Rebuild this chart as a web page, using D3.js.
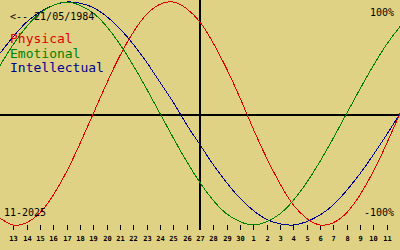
<!DOCTYPE html>
<html lang="en">
<head>
<meta charset="UTF-8">
<title>biorhythm</title>
<style>
  html, body { margin: 0; padding: 0; background: #e0d284; }
  svg { display: block; }
  text { font-family: "DejaVu Sans Mono", monospace; }
</style>
</head>
<body>
<svg></svg>
<script src="https://d3js.org/d3.v7.min.js"></script>
<script>
// day labels (11-2025 -> 12-2025), today = 27
var days = [13,14,15,16,17,18,19,20,21,22,23,24,25,26,27,28,29,30,1,2,3,4,5,6,7,8,9,10,11];
// values read per day, from the day before 13 to the day after 11
var physical = [-0.94,-1.0,-0.98,-0.89,-0.73,-0.52,-0.27,0,0.27,0.52,0.73,0.89,0.98,1.0,0.94,0.82,0.63,0.4,0.14,-0.14,-0.4,-0.63,-0.82,-0.94,-1.0,-0.98,-0.89,-0.73,-0.52,-0.27,0];
var emotional = [0.43,0.62,0.78,0.9,0.97,1.0,0.97,0.9,0.78,0.62,0.43,0.22,0,-0.22,-0.43,-0.62,-0.78,-0.9,-0.97,-1.0,-0.97,-0.9,-0.78,-0.62,-0.43,-0.22,0,0.22,0.43,0.62,0.78];
var intellectual = [0.54,0.69,0.82,0.91,0.97,1.0,0.99,0.95,0.87,0.76,0.62,0.46,0.28,0.1,-0.1,-0.28,-0.46,-0.62,-0.76,-0.87,-0.95,-0.99,-1.0,-0.97,-0.91,-0.82,-0.69,-0.54,-0.37,-0.19,0];
var legend = ['Physical', 'Emotional', 'Intellectual'];
var todayIndex = 14;

var width = 400, height = 250;
var svg = d3.select('svg').attr('width', width).attr('height', height);

svg.append('rect').attr('width', width).attr('height', height).attr('fill', '#e0d284');

var x = d3.scaleLinear().domain([-1, 29]).range([0, 400]);
var y = d3.scaleLinear().domain([-1, 1]).range([225, 2]);

// axes
svg.append('line').attr('x1', 0).attr('x2', width).attr('y1', 115).attr('y2', 115)
  .attr('stroke', '#000').attr('stroke-width', 2).attr('shape-rendering', 'crispEdges');
svg.append('line').attr('x1', x(todayIndex)).attr('x2', x(todayIndex)).attr('y1', 0).attr('y2', 230)
  .attr('stroke', '#000').attr('stroke-width', 2).attr('shape-rendering', 'crispEdges');

// ticks and day labels
var tick = svg.selectAll('g.tick').data(days).enter().append('g').attr('class', 'tick')
  .attr('transform', (d, i) => 'translate(' + Math.round(x(i)) + ',0)');
tick.append('line').attr('x1', 0.5).attr('x2', 0.5).attr('y1', 225).attr('y2', 230)
  .attr('stroke', '#000').attr('shape-rendering', 'crispEdges');
tick.append('text').attr('x', 0.5).attr('y', 241).attr('text-anchor', 'middle')
  .attr('font-size', 7).attr('font-weight', 'bold').text(d => d);

// curves
var line = d3.line().x((d, i) => x(i - 1)).y(d => y(d)).curve(d3.curveNatural);
[[intellectual, '#000090'], [emotional, '#008000'], [physical, '#e00000']].forEach(s => {
  svg.append('path').datum(s[0]).attr('d', line).attr('fill', 'none')
    .attr('stroke', s[1]).attr('stroke-width', 1).attr('shape-rendering', 'crispEdges');
});

// texts
svg.append('text').attr('x', 10).attr('y', 20).attr('font-size', 10).attr('fill', '#000').text('<-- 21/05/1984');
var colors = ['#e00000', '#008000', '#000090'];
legend.forEach((t, i) => {
  svg.append('text').attr('x', 10).attr('y', 43 + i * 14.5).attr('font-size', 13).attr('fill', colors[i]).text(t);
});
svg.append('text').attr('x', 394).attr('y', 16).attr('text-anchor', 'end').attr('font-size', 10).text('100%');
svg.append('text').attr('x', 394).attr('y', 216).attr('text-anchor', 'end').attr('font-size', 10).text('-100%');
svg.append('text').attr('x', 4).attr('y', 216).attr('font-size', 10).text('11-2025');
</script>
</body>
</html>
